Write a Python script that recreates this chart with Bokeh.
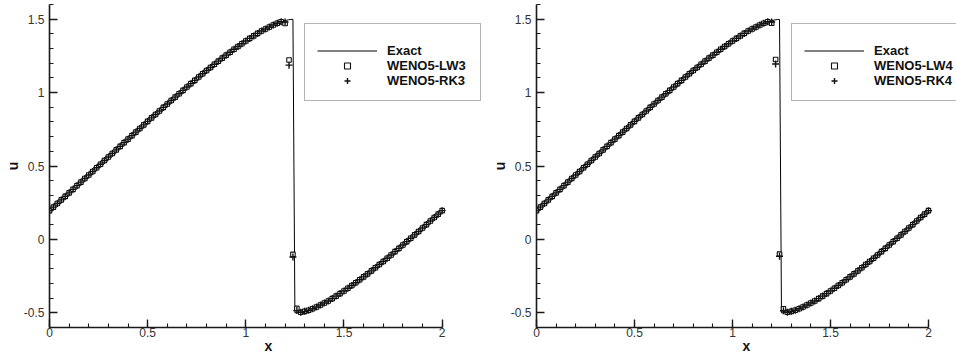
from bokeh.plotting import figure
from bokeh.layouts import row
from bokeh.models import (Legend, LegendItem, SingleIntervalTicker,
                          CustomJSTickFormatter, Range1d)
from bokeh.embed import file_html
from bokeh.resources import INLINE

# ---------------- data ----------------
# grid x = 0, 0.02, ..., 2.0 (101 points)
x_grid = [round(0.02 * i, 2) for i in range(101)]

# smooth part, x = 0 .. 1.18
u_left = [0.196, 0.220, 0.245, 0.269, 0.293, 0.317, 0.341, 0.366, 0.390, 0.415,
          0.439, 0.463, 0.488, 0.512, 0.537, 0.561, 0.585, 0.610, 0.634, 0.659,
          0.683, 0.707, 0.731, 0.755, 0.780, 0.804, 0.828, 0.851, 0.875, 0.899,
          0.922, 0.946, 0.969, 0.992, 1.015, 1.038, 1.061, 1.083, 1.106, 1.128,
          1.150, 1.171, 1.193, 1.214, 1.235, 1.255, 1.275, 1.295, 1.314, 1.333,
          1.351, 1.369, 1.386, 1.403, 1.419, 1.433, 1.447, 1.460, 1.472, 1.482]
# smooth part, x = 1.28 .. 2.0
u_right = [-0.496, -0.490, -0.482, -0.472, -0.460, -0.447, -0.433, -0.419, -0.403,
           -0.386, -0.369, -0.351, -0.333, -0.314, -0.295, -0.275, -0.255, -0.235,
           -0.214, -0.193, -0.171, -0.150, -0.128, -0.106, -0.083, -0.061, -0.038,
           -0.015, 0.008, 0.031, 0.054, 0.078, 0.101, 0.125, 0.149, 0.172, 0.196]
# values near the shock, x = 1.20, 1.22, 1.24, 1.26
shock_lw3 = [1.471, 1.222, -0.102, -0.470]
shock_rk3 = [1.480, 1.187, -0.120, -0.485]
shock_lw4 = [1.472, 1.225, -0.100, -0.472]
shock_rk4 = [1.481, 1.195, -0.115, -0.486]

u_lw3 = u_left + shock_lw3 + u_right
u_rk3 = u_left + shock_rk3 + u_right
u_lw4 = u_left + shock_lw4 + u_right
u_rk4 = u_left + shock_rk4 + u_right

# exact solution line
x_exact = [0.000, 0.021, 0.046, 0.071, 0.096, 0.122, 0.147, 0.173, 0.199, 0.224,
           0.250, 0.276, 0.301, 0.327, 0.353, 0.378, 0.404, 0.429, 0.454, 0.480,
           0.505, 0.529, 0.554, 0.579, 0.603, 0.627, 0.651, 0.675, 0.698, 0.721,
           0.744, 0.766, 0.789, 0.811, 0.832, 0.854, 0.874, 0.895, 0.915, 0.935,
           0.955, 0.974, 0.992, 1.010, 1.028, 1.046, 1.062, 1.079, 1.095, 1.110,
           1.126, 1.140, 1.154, 1.168, 1.181, 1.194, 1.206, 1.218, 1.229, 1.240,
           1.250,
           1.260, 1.271, 1.282, 1.294, 1.306, 1.319, 1.332, 1.346, 1.360, 1.374,
           1.390, 1.405, 1.421, 1.438, 1.454, 1.472, 1.490, 1.508, 1.526, 1.545,
           1.565, 1.585, 1.605, 1.626, 1.646, 1.668, 1.689, 1.711, 1.734, 1.756,
           1.779, 1.802, 1.825, 1.849, 1.873, 1.897, 1.921, 1.946, 1.971, 1.995,
           2.000]
u_exact = [0.196, 0.221, 0.251, 0.282, 0.313, 0.344, 0.375, 0.406, 0.437, 0.469,
           0.500, 0.531, 0.563, 0.594, 0.625, 0.656, 0.687, 0.718, 0.749, 0.779,
           0.809, 0.839, 0.868, 0.897, 0.926, 0.954, 0.982, 1.009, 1.036, 1.062,
           1.088, 1.113, 1.137, 1.161, 1.185, 1.207, 1.229, 1.250, 1.271, 1.290,
           1.309, 1.327, 1.344, 1.361, 1.376, 1.391, 1.405, 1.418, 1.430, 1.441,
           1.451, 1.460, 1.469, 1.476, 1.482, 1.488, 1.492, 1.496, 1.498, 1.499,
           -0.500,
           -0.500, -0.498, -0.496, -0.492, -0.488, -0.482, -0.476, -0.469, -0.460, -0.451,
           -0.441, -0.430, -0.418, -0.405, -0.391, -0.376, -0.361, -0.344, -0.327, -0.309,
           -0.290, -0.271, -0.250, -0.229, -0.207, -0.185, -0.161, -0.137, -0.113, -0.088,
           -0.062, -0.036, -0.009, 0.018, 0.046, 0.074, 0.103, 0.132, 0.161, 0.191,
           0.196]

labels_left = ["Exact", "WENO5-LW3", "WENO5-RK3"]
labels_right = ["Exact", "WENO5-LW4", "WENO5-RK4"]

FONT = "Liberation Sans"
H = 357


def style_axis(ax, label):
    ax.ticker = SingleIntervalTicker(interval=0.5, num_minor_ticks=5)
    ax.formatter = CustomJSTickFormatter(code="return String(Math.round(tick*100)/100)")
    ax.bounds = (-0.6, 1.6) if label == "u" else (0, 2)
    ax.axis_label = label
    ax.axis_label_text_font = FONT
    ax.axis_label_text_font_style = "bold"
    ax.axis_label_text_font_size = "14px"
    ax.axis_label_text_color = "#111111"
    ax.axis_label_standoff = 0
    ax.major_label_text_font = FONT
    ax.major_label_text_font_size = "12px"
    ax.major_label_text_color = "#333333"
    ax.axis_line_color = "#1a1a1a"
    ax.axis_line_width = 1.6
    ax.major_tick_line_color = "#1a1a1a"
    ax.major_tick_line_width = 1.4
    ax.minor_tick_line_color = "#1a1a1a"
    ax.minor_tick_line_width = 1.1
    ax.major_tick_in = 8
    ax.major_tick_out = 0
    ax.minor_tick_in = 4
    ax.minor_tick_out = 0


def make_panel(u_lw, u_rk, labels, width, x_end):
    p = figure(width=width, height=H, output_backend="svg", toolbar_location=None,
               x_range=Range1d(0, x_end), y_range=Range1d(-0.6, 1.6),
               min_border_left=49, min_border_right=0,
               min_border_top=4, min_border_bottom=30)
    p.outline_line_color = None
    p.xgrid.visible = False
    p.ygrid.visible = False
    style_axis(p.xaxis[0], "x")
    style_axis(p.yaxis[0], "u")
    p.xaxis[0].major_label_standoff = 0
    p.xaxis[0].axis_label_standoff = -2
    p.xaxis[0].major_label_text_line_height = 1.0
    p.xaxis[0].axis_label_text_line_height = 1.0
    p.yaxis[0].major_label_standoff = 5

    r_ex = p.line(x_exact, u_exact, line_color="black", line_width=1)
    r_lw = p.scatter(x_grid, u_lw, marker="square", size=4.5, fill_color="white",
                     line_color="#111111", line_width=1.1)
    r_rk = p.scatter(x_grid, u_rk, marker="cross", size=7, line_color="#111111",
                     line_width=1.4)

    legend = Legend(items=[LegendItem(label=labels[0], renderers=[r_ex]),
                           LegendItem(label=labels[1], renderers=[r_lw]),
                           LegendItem(label=labels[2], renderers=[r_rk])],
                    location=(255, 226), margin=0, padding=12, spacing=0,
                    title=" ", title_text_font_size="4px", title_standoff=2,
                    glyph_width=60, glyph_height=15, label_height=15,
                    label_width=81, label_standoff=10,
                    label_text_font=FONT, label_text_font_style="bold",
                    label_text_font_size="13px", label_text_color="#111111",
                    border_line_color="#6a6a6a", border_line_width=1.5,
                    background_fill_color="white", background_fill_alpha=1.0)
    p.add_layout(legend)
    return p


# left frame: 49..487 px (x=2 at ~441 px); right frame: 49..469 px of its figure
p1 = make_panel(u_lw3, u_rk3, labels_left, 487, 2.231)
p2 = make_panel(u_lw4, u_rk4, labels_right, 469, 2.143)

layout = row(p1, p2)
open("out.html", "w").write(file_html(layout, INLINE))
